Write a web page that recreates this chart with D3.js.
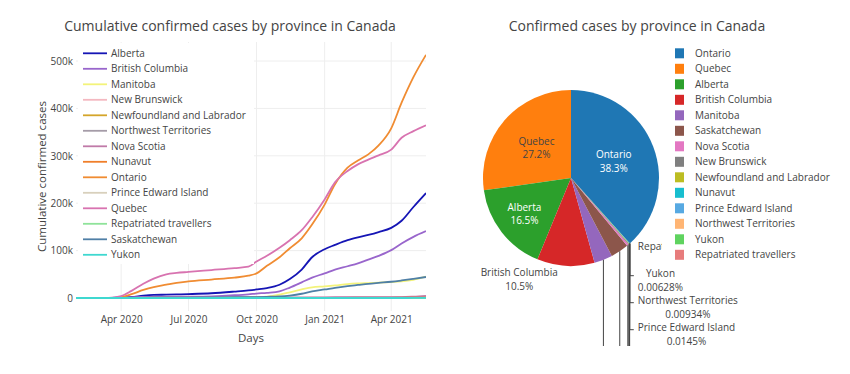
<!DOCTYPE html>
<html>
<head>
<meta charset="utf-8">
<script src="https://cdn.jsdelivr.net/npm/d3@7"></script>
<style>
  body { margin: 0; background: #fff; }
  svg { font-family: "Open Sans", sans-serif; }
</style>
</head>
<body>
<svg id="chart" width="850" height="374"></svg>
<script>
// sample days (cumulative counts below are in thousands)
const dates = ["2020-01-31","2020-03-01","2020-03-15","2020-04-01","2020-04-15","2020-05-01","2020-05-15",
    "2020-06-01","2020-06-15","2020-07-01","2020-08-01","2020-09-01","2020-09-20","2020-10-01","2020-10-15",
    "2020-11-01","2020-11-15","2020-12-01","2020-12-15","2021-01-01","2021-01-15","2021-02-01","2021-02-15",
    "2021-03-01","2021-03-15","2021-04-01","2021-04-15","2021-05-01","2021-05-18"];

const provinces = ["Alberta", "British Columbia", "Manitoba", "New Brunswick", "Newfoundland and Labrador",
    "Northwest Territories", "Nova Scotia", "Nunavut", "Ontario", "Prince Edward Island", "Quebec",
    "Repatriated travellers", "Saskatchewan", "Yukon"];

const alberta = [0, 0, 0.04, 1.1, 2.1, 5, 6.5, 7, 7.5, 8.2, 10, 13.5, 16, 18, 21, 28, 40, 60, 86, 103, 112, 122, 128, 133, 139, 148, 163, 192, 221.3];
const britishColumbia = [0, 0.008, 0.07, 1.07, 1.5, 2.1, 2.4, 2.6, 2.75, 2.9, 3.6, 5.8, 7.8, 9.4, 11, 14, 22, 33, 43, 52, 60, 67, 73, 81, 89, 101, 115, 129, 141.1];
const manitoba = [0, 0, 0.004, 0.13, 0.25, 0.27, 0.28, 0.29, 0.3, 0.31, 0.4, 1.2, 1.6, 2.0, 3.0, 7, 12, 18, 22.5, 24.5, 26.5, 29.5, 30.8, 31.6, 32.4, 33.8, 35.2, 38.5, 45.0];
const newBrunswick = [0, 0, 0.001, 0.07, 0.12, 0.12, 0.12, 0.13, 0.15, 0.165, 0.17, 0.19, 0.195, 0.2, 0.25, 0.33, 0.36, 0.49, 0.53, 0.58, 0.9, 1.2, 1.33, 1.43, 1.48, 1.55, 1.7, 1.9, 2.05];
const newfoundland = [0, 0, 0.001, 0.15, 0.25, 0.26, 0.26, 0.26, 0.26, 0.26, 0.27, 0.27, 0.27, 0.27, 0.28, 0.29, 0.31, 0.34, 0.36, 0.39, 0.39, 0.4, 0.79, 0.98, 1.0, 1.01, 1.05, 1.12, 1.2];
const northwest = [0, 0, 0, 0.001, 0.005, 0.005, 0.005, 0.005, 0.005, 0.005, 0.005, 0.005, 0.005, 0.005, 0.006, 0.01, 0.012, 0.015, 0.02, 0.024, 0.026, 0.03, 0.035, 0.04, 0.042, 0.043, 0.045, 0.1, 0.125];
const novaScotia = [0, 0, 0.005, 0.19, 0.58, 0.93, 1.03, 1.06, 1.06, 1.07, 1.07, 1.08, 1.09, 1.09, 1.1, 1.11, 1.13, 1.3, 1.45, 1.55, 1.57, 1.58, 1.6, 1.62, 1.68, 1.76, 1.9, 2.9, 4.5];
const nunavut = [0, 0, 0, 0, 0, 0, 0, 0, 0, 0, 0, 0, 0, 0, 0, 0, 0.07, 0.18, 0.26, 0.27, 0.28, 0.3, 0.31, 0.35, 0.37, 0.38, 0.45, 0.57, 0.64];
const ontario = [0, 0.02, 0.1, 2, 8, 17, 23, 28, 32, 35, 39, 43, 47, 52, 68, 86, 105, 126, 155, 197, 240, 275, 290, 303, 322, 358, 412, 466, 513];
const princeEdward = [0, 0, 0.001, 0.02, 0.025, 0.027, 0.027, 0.027, 0.027, 0.03, 0.036, 0.044, 0.05, 0.059, 0.061, 0.064, 0.067, 0.07, 0.088, 0.1, 0.104, 0.11, 0.115, 0.13, 0.15, 0.16, 0.17, 0.18, 0.194];
const quebec = [0, 0, 0.1, 4, 15, 30, 41, 50, 53, 55, 59, 63, 66, 77, 89, 106, 122, 143, 170, 208, 244, 268, 282, 292, 301, 313, 338, 352, 364.5];
const repatriated = [0, 0, 0.009, 0.013, 0.013, 0.013, 0.013, 0.013, 0.013, 0.013, 0.013, 0.013, 0.013, 0.013, 0.013, 0.013, 0.013, 0.013, 0.013, 0.013, 0.013, 0.013, 0.013, 0.013, 0.013, 0.013, 0.013, 0.013, 0.013];
const saskatchewan = [0, 0, 0.002, 0.18, 0.3, 0.4, 0.6, 0.65, 0.75, 0.8, 1.3, 1.6, 1.8, 2.0, 2.5, 3.3, 5.2, 9, 14, 18, 21.5, 25, 27.5, 30, 32, 34.3, 37, 40.5, 44.4];
const yukon = [0, 0, 0, 0.006, 0.009, 0.011, 0.011, 0.011, 0.011, 0.011, 0.014, 0.015, 0.015, 0.015, 0.016, 0.023, 0.03, 0.042, 0.055, 0.07, 0.07, 0.07, 0.071, 0.072, 0.072, 0.073, 0.075, 0.081, 0.084];

const seriesValues = [alberta, britishColumbia, manitoba, newBrunswick, newfoundland, northwest, novaScotia,
    nunavut, ontario, princeEdward, quebec, repatriated, saskatchewan, yukon];

const lineColors = ["#1515b5", "#9966cc", "#f3f37a", "#f4b8c0", "#d4a52a", "#a59ca8", "#c07aa8",
    "#f07f2a", "#f08c32", "#d8d0bc", "#d873b0", "#8fe39a", "#4f7fa6", "#3fd8d0"];

// pie colours, in order of slice size
const pieColors = ["#1f77b4", "#ff7f0e", "#2ca02c", "#d62728", "#9467bd", "#8c564b", "#e377c2",
    "#7f7f7f", "#bcbd22", "#17becf", "#57a9e2", "#ffb574", "#5fd35f", "#e77c7c"];

const yTicks = [0, 100, 200, 300, 400, 500];
const xTicks = ["2020-04-01", "2020-07-01", "2020-10-01", "2021-01-01", "2021-04-01"];

const svg = d3.select("#chart");
const parse = d3.utcParse("%Y-%m-%d");
const textColor = "#444";

svg.append("rect").attr("width", 850).attr("height", 374).attr("fill", "#fff");

// ---------- line chart ----------
var plot = {left: 76, right: 426, top: 42, bottom: 311};

var x = d3.scaleUtc()
    .domain([parse(dates[0]), parse(dates[dates.length - 1])])
    .range([plot.left, plot.right]);

var y = d3.scaleLinear()
    .domain([-27.4, 540.1])
    .range([plot.bottom, plot.top]);

var defs = svg.append("defs");
defs.append("clipPath").attr("id", "plotClip")
  .append("rect")
    .attr("x", plot.left).attr("y", plot.top)
    .attr("width", plot.right - plot.left).attr("height", plot.bottom - plot.top);

svg.append("g").selectAll("line")
    .data(yTicks.filter(d => d !== 0))
    .enter().append("line")
    .attr("x1", plot.left).attr("x2", plot.right)
    .attr("y1", d => y(d)).attr("y2", d => y(d))
    .attr("stroke", "#eee");

svg.append("g").selectAll("line")
    .data(xTicks)
    .enter().append("line")
    .attr("x1", d => x(parse(d))).attr("x2", d => x(parse(d)))
    .attr("y1", plot.top).attr("y2", plot.bottom)
    .attr("stroke", "#eee");

svg.append("line")
    .attr("x1", plot.left).attr("x2", plot.right)
    .attr("y1", y(0)).attr("y2", y(0))
    .attr("stroke", "#444");

var yAxis = svg.append("g")
    .attr("transform", `translate(${plot.left},0)`)
    .call(d3.axisLeft(y).tickValues(yTicks).tickSize(0).tickPadding(3)
        .tickFormat(d => d === 0 ? "0" : d + "k"));
yAxis.select(".domain").remove();
yAxis.selectAll("text").attr("fill", textColor).style("font-size", "10px").style("font-family", "Open Sans");

var xAxis = svg.append("g")
    .attr("transform", `translate(0,${plot.bottom})`)
    .call(d3.axisBottom(x).tickValues(xTicks.map(parse)).tickSize(0).tickPadding(5)
        .tickFormat(d3.utcFormat("%b %Y")));
xAxis.select(".domain").remove();
xAxis.selectAll("text").attr("fill", textColor).style("font-size", "10px").style("font-family", "Open Sans");

var series = provinces.map(function(name, i) {
    return {
        name: name,
        color: lineColors[i],
        values: dates.map((d, j) => ({date: parse(d), v: seriesValues[i][j]}))
    };
});

var line = d3.line()
    .x(d => x(d.date))
    .y(d => y(d.v))
    .curve(d3.curveMonotoneX);

svg.append("g").attr("clip-path", "url(#plotClip)")
  .selectAll("path")
    .data(series)
    .enter().append("path")
    .attr("d", d => line(d.values))
    .attr("fill", "none")
    .attr("stroke", d => d.color)
    .attr("stroke-width", 1.8)
    .attr("stroke-linejoin", "round");

svg.append("text")
    .attr("x", 230).attr("y", 31)
    .attr("text-anchor", "middle")
    .attr("fill", textColor)
    .style("font-size", "14px")
    .text("Cumulative confirmed cases by province in Canada");

svg.append("text")
    .attr("x", (plot.left + plot.right) / 2).attr("y", 342)
    .attr("text-anchor", "middle")
    .attr("fill", textColor)
    .style("font-size", "11.5px")
    .text("Days");

svg.append("text")
    .attr("transform", `translate(46,${(plot.top + plot.bottom) / 2}) rotate(-90)`)
    .attr("text-anchor", "middle")
    .attr("fill", textColor)
    .style("font-size", "11.5px")
    .text("Cumulative confirmed cases");

// line legend
var legendTop = 53.3, legendStep = 15.5;
svg.append("rect")
    .attr("x", 78).attr("y", 43).attr("width", 176).attr("height", 221)
    .attr("fill", "#fff");

var legend = svg.selectAll(".legend")
    .data(series)
    .enter().append("g")
    .attr("class", "legend")
    .attr("transform", (d, i) => `translate(0,${legendTop + i * legendStep})`);

legend.append("line")
    .attr("x1", 83).attr("x2", 107)
    .attr("stroke", d => d.color)
    .attr("stroke-width", 1.8);

legend.append("text")
    .attr("x", 111).attr("dy", ".35em")
    .attr("fill", textColor)
    .style("font-size", "10px")
    .text(d => d.name);

// ---------- pie chart ----------
var cx = 571, cy = 178, radius = 88;
var tau = 2 * Math.PI;
var pieBottom = 346;
var pieLegendLeft = 662;

var pieData = provinces.map((name, i) => ({
        name: name,
        value: Math.round(seriesValues[i][seriesValues[i].length - 1] * 1000)
    }))
    .sort((a, b) => b.value - a.value);

var total = d3.sum(pieData, d => d.value);
var pieColor = d3.scaleOrdinal().domain(pieData.map(d => d.name)).range(pieColors);
var pctFormat = v => d3.format(".3r")(v) + "%";

var firstShare = pieData[0].value / total;
var arcs = d3.pie()
    .value(d => d.value)
    .sort(null)
    .startAngle(firstShare * tau)
    .endAngle(firstShare * tau - tau)(pieData);

var arc = d3.arc().innerRadius(0).outerRadius(radius);

// pie area: cut at the bottom, and hidden behind the legend box
var pieClip = defs.append("clipPath").attr("id", "pieClip");
pieClip.append("rect").attr("x", 440).attr("y", 0).attr("width", pieLegendLeft - 440).attr("height", pieBottom);
pieClip.append("rect").attr("x", 440).attr("y", 264).attr("width", 410).attr("height", pieBottom - 264);

var pieG = svg.append("g").attr("clip-path", "url(#pieClip)");

pieG.append("g")
    .attr("transform", `translate(${cx},${cy})`)
  .selectAll("path")
    .data(arcs)
    .enter().append("path")
    .attr("d", arc)
    .attr("fill", d => pieColor(d.data.name));

function point(a, r) {
    return [cx + r * Math.sin(a), cy - r * Math.cos(a)];
}

var lineH = 13.5;

function twoLineLabel(g, d, color) {
    var t = g.append("text")
        .attr("text-anchor", "middle")
        .attr("fill", color)
        .style("font-size", "10px");
    t.append("tspan").attr("x", 0).attr("y", -lineH / 2).attr("dy", ".35em").text(d.data.name);
    t.append("tspan").attr("x", 0).attr("y", lineH / 2).attr("dy", ".35em")
        .text(pctFormat(d.data.value / total * 100));
    var w = 0;
    t.selectAll("tspan").each(function() { w = Math.max(w, this.getComputedTextLength()); });
    return w;
}

var outside = [];
arcs.forEach(function(d) {
    var share = d.data.value / total;
    var mid = (d.startAngle + d.endAngle) / 2;
    var g = pieG.append("g");
    if (share > 0.15) {
        var fill = d3.hsl(pieColor(d.data.name)).l < 0.5 ? "#fff" : textColor;
        twoLineLabel(g, d, fill);
        var p = point(mid, radius * (share > 0.25 ? 0.52 : 0.67));
        g.attr("transform", `translate(${p[0]},${p[1]})`);
    } else {
        var w = twoLineLabel(g, d, textColor);
        var p = point(mid, radius);
        var side = Math.sin(mid) >= 0 ? 1 : -1;
        outside.push({
            g: g, w: w, px: p[0], py: p[1], side: side,
            lx: p[0] + side * (8 + w / 2),
            ly: p[1] - Math.cos(mid) * lineH
        });
    }
});

// stack outside labels downward on each side
[1, -1].forEach(function(side) {
    var items = outside.filter(o => o.side === side).sort((a, b) => a.ly - b.ly);
    var prevBottom = -Infinity;
    items.forEach(function(o) {
        var top = Math.max(o.ly - lineH, prevBottom);
        var shifted = top > o.ly - lineH + 1;
        o.ly = top + lineH;
        prevBottom = top + 2 * lineH;
        if (top >= pieBottom) {
            o.g.remove();   // below the visible area
        } else {
            o.g.attr("transform", `translate(${o.lx},${o.ly})`);
            // the part under the legend box is hidden
            if (o.ly < 264 && o.lx + o.w / 2 > pieLegendLeft) {
                o.g.select("text").selectAll("tspan").filter((d, i) => i === 1).remove();
            }
        }
        if (shifted) {
            var lineY = o.ly - lineH / 2 + 2;
            var edge = o.lx - side * (o.w / 2 + 4);
            pieG.append("path")
                .attr("d", `M${o.px},${o.py}V${lineY}H${edge}`)
                .attr("fill", "none")
                .attr("stroke", textColor)
                .attr("stroke-width", 1);
        }
    });
});

svg.append("text")
    .attr("x", 637).attr("y", 31)
    .attr("text-anchor", "middle")
    .attr("fill", textColor)
    .style("font-size", "14px")
    .text("Confirmed cases by province in Canada");

// pie legend
var pieLegend = svg.selectAll(".pie-legend")
    .data(pieData)
    .enter().append("g")
    .attr("class", "pie-legend")
    .attr("transform", (d, i) => `translate(0,${legendTop + i * legendStep})`);

pieLegend.append("rect")
    .attr("x", 675).attr("y", -5)
    .attr("width", 9).attr("height", 10)
    .attr("fill", d => pieColor(d.name));

pieLegend.append("text")
    .attr("x", 695).attr("dy", ".35em")
    .attr("fill", textColor)
    .style("font-size", "10px")
    .text(d => d.name);
</script>
</body>
</html>
